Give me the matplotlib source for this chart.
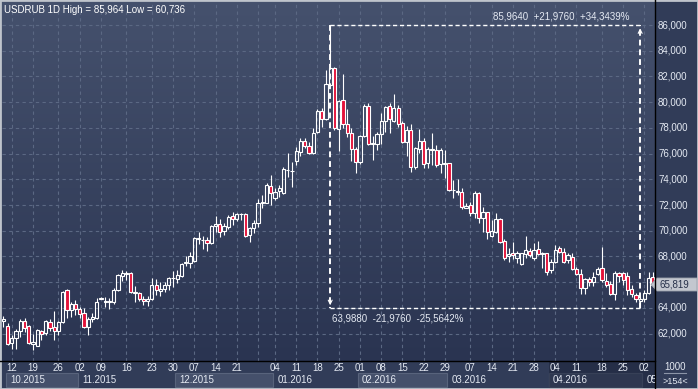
import matplotlib
matplotlib.use('Agg')
import matplotlib.pyplot as plt
import numpy as np
from matplotlib.colors import LinearSegmentedColormap
from matplotlib.patches import Rectangle, Polygon
from matplotlib.lines import Line2D
from matplotlib.transforms import blended_transform_factory, Bbox, TransformedBbox

plt.rcParams['font.family'] = ['Liberation Sans', 'DejaVu Sans']

# USDRUB daily bars (oldest first)
opens = [63.00, 62.60, 61.25, 61.63, 62.20, 62.98, 62.60, 61.17, 61.07, 62.23,
         62.02, 62.88, 62.54, 62.23, 62.88, 65.39, 63.84, 64.30, 63.89, 63.58,
         62.49, 63.11, 63.24, 64.70, 64.43, 64.45, 64.43, 65.39, 66.50, 66.60,
         66.69, 65.13, 65.13, 64.72, 64.54, 64.67, 65.76, 65.34, 65.45, 65.76,
         66.33, 66.27, 66.51, 67.47, 67.52, 67.67, 69.38, 69.27, 69.28, 69.02,
         70.37, 70.53, 70.01, 70.32, 71.15, 70.89, 71.27, 71.28, 69.67, 70.19,
         70.58, 72.13, 72.18, 73.48, 72.52, 73.12, 72.91, 74.70, 74.62, 75.45,
         76.15, 76.98, 76.59, 76.02, 77.71, 79.34, 78.67, 81.33, 82.63, 77.89,
         80.17, 78.28, 77.58, 76.33, 75.37, 77.40, 79.70, 76.78, 76.75, 77.50,
         78.54, 79.70, 78.56, 79.57, 78.35, 76.93, 77.84, 74.98, 76.36, 76.98,
         75.24, 76.31, 76.28, 75.17, 75.22, 75.24, 73.15, 73.02, 72.99, 71.80,
         72.00, 71.41, 72.96, 70.97, 71.49, 69.59, 69.93, 70.91, 69.23, 68.00,
         68.30, 67.90, 67.40, 68.17, 68.45, 67.86, 68.55, 68.22, 68.24, 66.95,
         67.55, 68.63, 68.37, 67.73, 67.93, 67.00, 66.64, 65.52, 66.22, 65.99,
         66.64, 67.08, 66.12, 65.86, 65.08, 66.74, 66.69, 66.48, 65.45, 65.00,
         64.56, 64.67, 65.19, 66.38]
highs = [63.37, 62.80, 61.90, 62.36, 63.14, 63.19, 62.67, 61.95, 62.34, 62.30,
         63.06, 63.10, 63.76, 62.98, 65.32, 65.47, 64.49, 64.60, 64.10, 64.02,
         63.32, 63.58, 64.80, 64.85, 64.82, 64.80, 65.52, 66.61, 66.95, 66.87,
         66.82, 65.70, 65.26, 64.93, 64.93, 66.35, 66.28, 66.04, 66.00, 66.43,
         66.90, 66.95, 67.47, 68.04, 68.37, 69.49, 69.88, 69.60, 69.49, 70.45,
         71.15, 70.89, 70.63, 71.23, 71.43, 71.41, 71.36, 71.35, 70.27, 70.84,
         72.44, 72.78, 73.69, 74.34, 73.30, 73.56, 74.98, 76.07, 75.37, 76.49,
         77.19, 77.19, 76.93, 77.96, 79.44, 79.52, 82.50, 85.964, 82.76, 80.17,
         82.19, 79.44, 77.97, 76.54, 77.45, 79.86, 79.91, 77.37, 77.70, 79.13,
         79.70, 79.91, 80.61, 79.78, 78.54, 78.17, 78.28, 76.54, 77.91, 77.19,
         76.54, 77.58, 76.67, 76.46, 76.28, 75.29, 73.95, 74.02, 73.35, 72.13,
         72.21, 73.09, 73.04, 71.87, 71.49, 70.84, 71.36, 71.02, 69.35, 68.65,
         69.15, 68.45, 68.30, 69.59, 68.63, 69.07, 69.23, 68.37, 68.30, 67.78,
         68.89, 68.81, 68.63, 68.30, 68.24, 67.21, 67.00, 66.30, 66.38, 66.82,
         67.21, 68.76, 66.74, 66.12, 66.87, 66.82, 66.82, 66.82, 65.78, 65.19,
         64.88, 65.39, 66.82, 66.82]
lows = [62.54, 61.10, 60.80, 60.78, 61.76, 62.15, 61.17, 60.736, 61.00, 61.50,
        61.90, 62.20, 61.50, 61.89, 62.80, 63.24, 63.32, 63.45, 63.24, 62.41,
        61.90, 62.93, 63.14, 64.70, 64.10, 63.90, 64.28, 65.32, 66.10, 66.17,
        65.13, 64.49, 64.54, 64.23, 64.15, 64.60, 65.00, 64.95, 65.26, 65.39,
        65.65, 65.91, 66.43, 67.26, 67.13, 67.60, 68.97, 68.58, 68.45, 68.95,
        69.93, 69.54, 69.67, 70.11, 70.45, 70.78, 70.84, 69.54, 69.15, 69.85,
        70.32, 71.75, 72.13, 72.00, 72.39, 72.65, 72.86, 74.20, 73.43, 75.11,
        75.81, 76.41, 75.97, 75.94, 77.63, 78.04, 78.61, 81.26, 77.84, 76.23,
        77.97, 77.32, 75.45, 74.52, 75.19, 77.32, 76.67, 75.50, 76.28, 76.75,
        77.71, 77.58, 78.48, 78.09, 76.80, 75.84, 74.60, 74.80, 76.02, 74.90,
        74.90, 75.11, 74.98, 74.46, 74.07, 73.09, 72.52, 72.78, 71.69, 71.74,
        71.15, 71.02, 70.63, 69.88, 69.36, 69.54, 69.80, 69.02, 67.70, 67.60,
        67.80, 67.50, 67.30, 67.90, 67.98, 67.73, 68.11, 67.08, 66.56, 66.69,
        67.47, 68.24, 67.47, 67.47, 66.95, 66.56, 65.08, 65.08, 65.70, 65.70,
        66.56, 66.04, 65.65, 65.00, 64.62, 66.04, 65.78, 65.00, 64.88, 64.49,
        63.988, 64.49, 65.08, 65.65]
closes = [63.10, 61.20, 61.69, 62.20, 62.98, 62.46, 61.25, 61.32, 62.28, 62.00,
          62.98, 62.41, 62.23, 62.88, 65.26, 63.84, 64.30, 63.89, 63.55, 62.49,
          63.14, 63.32, 64.43, 64.80, 64.54, 64.50, 65.39, 66.56, 66.69, 66.68,
          65.21, 65.26, 64.67, 64.54, 64.72, 65.76, 65.40, 65.47, 65.78, 66.35,
          66.36, 66.56, 67.41, 67.60, 68.04, 69.41, 69.42, 69.30, 69.02, 70.37,
          70.53, 69.93, 70.37, 71.10, 70.89, 71.30, 71.29, 69.62, 70.19, 70.63,
          72.18, 72.26, 73.56, 72.91, 73.04, 73.30, 74.78, 74.74, 74.65, 76.20,
          76.98, 76.62, 76.02, 77.58, 79.34, 78.67, 81.41, 82.63, 77.97, 80.12,
          78.28, 77.58, 76.33, 75.37, 77.40, 79.70, 76.75, 76.82, 77.50, 78.54,
          79.60, 78.67, 79.57, 78.28, 76.93, 77.84, 74.98, 76.41, 76.98, 75.19,
          76.36, 76.35, 75.11, 76.28, 75.26, 73.17, 73.19, 73.06, 71.87, 71.95,
          71.41, 72.96, 70.97, 71.49, 69.93, 70.01, 70.91, 69.15, 67.90, 68.20,
          68.10, 68.30, 68.24, 68.50, 68.11, 68.50, 68.17, 68.26, 66.77, 67.60,
          68.50, 68.37, 67.60, 68.11, 67.00, 66.61, 65.52, 66.22, 65.99, 66.38,
          67.00, 66.17, 65.78, 65.08, 66.74, 66.48, 66.17, 65.39, 65.08, 64.67,
          64.69, 65.19, 66.30, 65.819]

# axis labels
week_ticks = [2, 7, 13, 18, 23, 29, 35, 40, 45, 50, 55, 60, 64, 69, 74, 79, 84,
              89, 94, 99, 104, 110, 115, 120, 125, 130, 135, 141, 146, 151]
week_labels = ['12', '19', '26', '02', '09', '16', '23', '30', '07', '14', '21', '',
               '04', '11', '18', '25', '01', '08', '15', '22', '29', '07', '14',
               '21', '28', '04', '11', '18', '25', '02']
month_starts = [0, 18, 41, 64, 84, 105, 129, 151]
month_labels = ['10.2015', '11.2015', '12.2015', '01.2016', '02.2016', '03.2016',
                '04.2016', '05']
price_ticks = [62, 64, 66, 68, 70, 72, 74, 76, 78, 80, 82, 84, 86]
title = 'USDRUB 1D High = 85,964 Low = 60,736'
measure_from, measure_to = 77, 150
last_close = 65.819

W, H = 698, 389
bg_top, bg_bot = '#45516d', '#2a3451'
strip_bg = '#313c58'
grid_col = '#5b6883'
txt_col = '#e4e9f2'
red = '#e3123a'


def fx(px):
    return px / W


def fy(py):
    return 1 - py / H


def comma(v, nd):
    return f'{v:.{nd}f}'.replace('.', ',')


fig = plt.figure(figsize=(W / 100, H / 100), dpi=100)
fig.patch.set_facecolor(strip_bg)

ax = fig.add_axes([fx(2), fy(361), fx(653), 359 / H])
xmin, xmax = -0.3, 153.5
ymin, ymax = 59.87, 87.79
ax.set_xlim(xmin, xmax)
ax.set_ylim(ymin, ymax)
for s in ax.spines.values():
    s.set_visible(False)
ax.set_xticks([])
ax.set_yticks([])

cmap = LinearSegmentedColormap.from_list('bg', [bg_top, bg_bot])
ax.imshow(np.linspace(0, 1, 256).reshape(-1, 1), cmap=cmap, aspect='auto',
          extent=[xmin, xmax, ymin, ymax], origin='upper', zorder=0)

# grid
ax.hlines(price_ticks, xmin, xmax, colors=grid_col, linestyles=(0, (3, 3)), lw=0.8, zorder=1)
ax.vlines(week_ticks, ymin, ymax, colors=grid_col, linestyles=(0, (3, 3)), lw=0.8, zorder=1)

# candles
for i, (o, h, l, c) in enumerate(zip(opens, highs, lows, closes)):
    top, bot = max(o, c), min(o, c)
    ax.vlines(i, top, h, colors='white', lw=0.8, zorder=3)
    ax.vlines(i, l, bot, colors='white', lw=0.8, zorder=3)
    face = red if c < o else 'none'
    ax.add_patch(Rectangle((i - 0.38, bot), 0.76, max(top - bot, 0.03),
                           facecolor=face, edgecolor='white', lw=0.8, zorder=4))

# measuring tool
hi, lo = highs[measure_from], lows[measure_to]
dash = (0, (3, 2))
ax.plot([measure_from, measure_from], [hi, lo], color='white', lw=1.4, ls=dash, zorder=5)
ax.plot([measure_to, measure_to], [lo, hi], color='white', lw=1.4, ls=dash, zorder=5)
ax.plot([measure_from, measure_to], [hi, hi], color='white', lw=1, ls=dash, zorder=5)
ax.plot([measure_from, measure_to], [lo, lo], color='white', lw=1, ls=dash, zorder=5)
ax.annotate('', xy=(measure_from, lo), xytext=(measure_from, lo + 0.8),
            arrowprops=dict(arrowstyle='->', color='white', lw=0.8, mutation_scale=7), zorder=6)
ax.annotate('', xy=(measure_to, hi), xytext=(measure_to, hi - 0.8),
            arrowprops=dict(arrowstyle='->', color='white', lw=0.8, mutation_scale=7), zorder=6)
diff = hi - lo
ax.annotate(f'{comma(hi, 4)}  +{comma(diff, 4)}  +{comma(diff / lo * 100, 4)}%',
            xy=(measure_to, hi), xytext=(-11, 9), textcoords='offset pixels',
            ha='right', va='center', color=txt_col, fontsize=7, zorder=6)
ax.annotate(f'{comma(lo, 4)}  -{comma(diff, 4)}  -{comma(diff / hi * 100, 4)}%',
            xy=(measure_from, lo), xytext=(2, -10), textcoords='offset pixels',
            ha='left', va='center', color=txt_col, fontsize=7, zorder=6)

ax.text(0.003, 1 - 8 / 359, title, transform=ax.transAxes,
        ha='left', va='center', color='white', fontsize=7, zorder=6)

# price labels on the right (66 is covered by the last-price marker)
for v in price_ticks:
    if abs(v - last_close) < 0.8:
        continue
    ax.text(1 + 3 / 653, v, comma(v, 3), transform=blended_transform_factory(ax.transAxes, ax.transData),
            ha='left', va='center', color=txt_col, fontsize=7, clip_on=False)

# bottom strip, clipped at the price column
strip_clip = TransformedBbox(Bbox([[0, 0], [fx(655), fy(361)]]), fig.transFigure)
bt = blended_transform_factory(ax.transData, fig.transFigure)
for k, (s, lab) in enumerate(zip(month_starts, month_labels)):
    left = max(s - 0.5, xmin + 1)
    right = month_starts[k + 1] - 0.5 if k + 1 < len(month_starts) else xmax
    if k % 2 == 0 and k < len(month_starts) - 1:
        fig.add_artist(Rectangle((left, fy(387)), right - left, 14 / H, transform=bt,
                                 facecolor='#45506b', edgecolor='#58637c', lw=0.8))
    t = fig.text(left + 1, fy(380), lab, transform=bt, ha='left', va='center',
                 color=txt_col, fontsize=7)
    t.set_clip_box(strip_clip)
    t.set_clip_on(True)
for t, lab in zip(week_ticks, week_labels):
    fig.text(t, fy(368), lab, transform=bt, ha='center', va='center', color=txt_col, fontsize=7)

# dimmed tail of the time axis
fig.add_artist(Rectangle((fx(549), 0), fx(655) - fx(549), fy(361), transform=fig.transFigure,
                         facecolor='#1c243a', alpha=0.55, lw=0))

# separators
fig.add_artist(Line2D([fx(655), fx(655)], [0, 1], color='black', lw=1))
fig.add_artist(Line2D([0, fx(655)], [fy(361), fy(361)], color='black', lw=1))

# last price marker
marker = Polygon([(fx(651), fy(284.5)), (fx(657), fy(278)), (fx(697), fy(278)),
                  (fx(697), fy(291)), (fx(657), fy(291))], closed=True,
                 transform=fig.transFigure, facecolor='#c3c7cf', edgecolor='#9aa0ab', lw=0.6)
fig.add_artist(marker)
fig.text(fx(659), fy(284.5), comma(last_close, 3), ha='left', va='center', color='#27314a', fontsize=7)

fig.text(fx(675), fy(367), '1000', ha='center', va='center', color=txt_col, fontsize=7)
fig.add_artist(Line2D([fx(664), fx(686)], [fy(373), fy(373)], color='#8c95a8', lw=0.8))
fig.text(fx(675), fy(381), '>154<', ha='center', va='center', color=txt_col, fontsize=6.5)

fig.add_artist(Rectangle((0, 0), 1, 1, transform=fig.transFigure, fill=False,
                         edgecolor='#bfc4cc', lw=2))

fig.savefig('out.png', dpi=100, facecolor=fig.get_facecolor())
